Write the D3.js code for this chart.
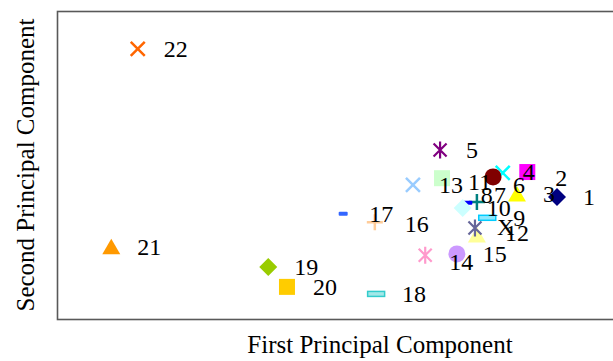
<!DOCTYPE html>
<html>
<head>
<meta charset="utf-8">
<script src="https://cdn.jsdelivr.net/npm/d3@7"></script>
<style>
  body { margin: 0; background: #fff; }
  svg { display: block; }
  text { font-family: "Liberation Serif", "Times New Roman", serif; fill: #000; }
</style>
</head>
<body>
<svg id="chart" width="613" height="361"></svg>
<script>
// Sample names, in plotting order
const labels = ["1","2","3","4","5","6","7","8","9","10","11","12","13","14","15","16","17","18","19","20","21","22","X"];

// Scores on the first principal component
const pc1 = [1.74, 1.28, 1.12, 0.90, -0.07, 0.75, 0.50, 0.36, 0.66, 0.28, -0.04, 0.50, -0.49, -0.30, 0.19, -1.08, -1.57, -1.06, -2.73, -2.44, -5.16, -4.75, 0.47];

// Scores on the second principal component
const pc2 = [-0.23, 0.34, -0.16, 0.32, 0.84, 0.23, -0.34, -0.36, -0.70, -0.48, 0.20, -1.09, 0.05, -1.55, -1.52, -0.80, -0.61, -2.43, -1.82, -2.27, -1.36, 3.14, -0.93];

// One colour per sample
const colors = ["#000080","#FF00FF","#FFFF00","#00FFFF","#800080","#800000","#008080","#0000FF","#00CCFF","#CCFFFF","#CCFFCC","#FFFF99","#99CCFF","#FF99CC","#CC99FF","#FFCC99","#3366FF","#33CCCC","#99CC00","#FFCC00","#FF9900","#FF6600","#666699"];

// Marker shapes cycle through this list
const markerCycle = ["diamond","square","triangle","x","star","circle","plus","dot","dash"];

// Hand-placed label tweaks (pixels) in the crowded cluster
const labelNudge = {
  "2": [2, 6], "4": [-6, -1], "6": [-6, 8], "7": [-9, -7], "8": [-13, -8],
  "10": [-2, 0], "11": [0, 4], "12": [2, -2], "14": [-2, 7], "16": [4, 2], "X": [-4, -1]
};

const plot = { left: 57, top: 11, right: 703, bottom: 319 };

const x = d3.scaleLinear().domain([-6, 4]).range([plot.left, plot.right]);
const y = d3.scaleLinear().domain([-3, 4]).range([plot.bottom, plot.top]);

const svg = d3.select("#chart");

// Plot frame (right edge runs off the page)
svg.append("rect")
  .attr("x", plot.left + 0.5)
  .attr("y", plot.top + 0.5)
  .attr("width", plot.right - plot.left)
  .attr("height", plot.bottom - plot.top)
  .attr("fill", "none")
  .attr("stroke", "#595959")
  .attr("stroke-width", 1.6);

const points = labels.map((name, i) => ({
  name, i,
  px: pc1[i], py: pc2[i],
  color: colors[i],
  shape: markerCycle[i % markerCycle.length]
}));

function drawMarker(g, d) {
  const c = d.color;
  switch (d.shape) {
    case "diamond":
      g.append("path").attr("d", "M0,-9L9,0L0,9L-9,0Z").attr("fill", c);
      break;
    case "square":
      g.append("rect").attr("x", -8).attr("y", -8).attr("width", 16).attr("height", 16).attr("fill", c);
      break;
    case "triangle":
      g.append("path").attr("d", "M0,-8L9,7.5L-9,7.5Z").attr("fill", c);
      break;
    case "x":
      g.append("path").attr("d", "M-7,-7L7,7M-7,7L7,-7")
        .attr("stroke", c).attr("stroke-width", 2.5).attr("fill", "none");
      break;
    case "star":
      g.append("path").attr("d", "M-6.5,-6.5L6.5,6.5M-6.5,6.5L6.5,-6.5M0,-8.5L0,8.5")
        .attr("stroke", c).attr("stroke-width", 2.2).attr("fill", "none");
      break;
    case "circle":
      g.append("circle").attr("r", 8.5).attr("fill", c);
      break;
    case "plus":
      g.append("path").attr("d", "M-8,0H8M0,-8V8")
        .attr("stroke", c).attr("stroke-width", 2.5).attr("fill", "none");
      break;
    case "dot":
      g.append("rect").attr("x", -4.5).attr("y", -2).attr("width", 9).attr("height", 4).attr("rx", 1)
        .attr("fill", c);
      break;
    case "dash":
      g.append("rect").attr("x", -8.5).attr("y", -2.5).attr("width", 17).attr("height", 5)
        .attr("fill", d3.interpolateRgb(c, "#ffffff")(0.55))
        .attr("stroke", c).attr("stroke-width", 1.5);
      break;
  }
}

// Markers
svg.append("g").selectAll("g")
  .data(points)
  .join("g")
  .attr("transform", d => `translate(${x(d.px)},${y(d.py)})`)
  .each(function (d) { drawMarker(d3.select(this), d); });

// Data labels sit above all markers
const nudge = d => labelNudge[d.name] || [0, 0];
svg.append("g").selectAll("text")
  .data(points)
  .join("text")
  .attr("x", d => x(d.px) + 26 + nudge(d)[0])
  .attr("y", d => y(d.py) + 8 + nudge(d)[1])
  .attr("font-size", 24)
  .text(d => d.name);

// Axis titles
svg.append("text")
  .attr("x", (plot.left + plot.right) / 2)
  .attr("y", 353)
  .attr("text-anchor", "middle")
  .attr("font-size", 25)
  .text("First Principal Component");

svg.append("text")
  .attr("transform", `translate(34,${(plot.top + plot.bottom) / 2}) rotate(-90)`)
  .attr("text-anchor", "middle")
  .attr("font-size", 25)
  .text("Second Principal Component");
</script>
</body>
</html>
